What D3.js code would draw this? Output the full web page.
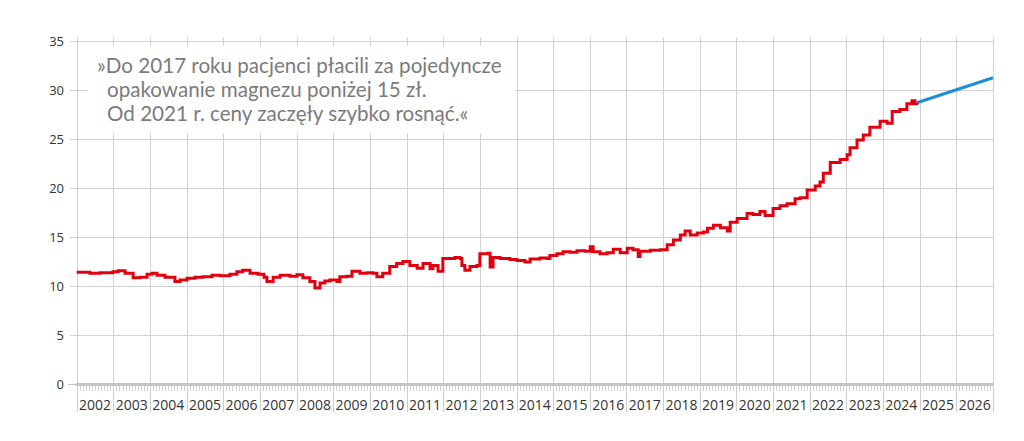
<!DOCTYPE html>
<html><head><meta charset="utf-8">
<script src="https://cdn.jsdelivr.net/npm/d3@7"></script>
<style>html,body{margin:0;padding:0;background:#fff;}svg{display:block;}</style>
</head><body>
<svg id="c" width="1024" height="441"></svg>
<script>
// ---- data ----
const years = d3.range(2002, 2027); // year labels 2002..2026
const yTicks = [0, 5, 10, 15, 20, 25, 30, 35];
const priceDates = [2002.0,2002.36,2002.64,2002.99,2003.13,2003.32,2003.54,2003.73,2003.92,2004.06,2004.19,2004.41,2004.68,2004.82,2005.01,2005.23,2005.45,2005.69,2005.91,2006.18,2006.37,2006.53,2006.73,2006.95,2007.11,2007.19,2007.36,2007.55,2007.82,2008.01,2008.17,2008.36,2008.50,2008.64,2008.77,2008.91,2009.10,2009.18,2009.37,2009.51,2009.73,2009.92,2010.08,2010.19,2010.35,2010.54,2010.73,2010.90,2011.09,2011.29,2011.45,2011.64,2011.72,2011.86,2011.99,2012.32,2012.46,2012.51,2012.59,2012.73,2012.92,2013.00,2013.22,2013.28,2013.36,2013.55,2013.82,2014.01,2014.23,2014.37,2014.64,2014.83,2014.91,2015.10,2015.27,2015.46,2015.65,2015.87,2016.01,2016.09,2016.28,2016.47,2016.64,2016.83,2017.02,2017.18,2017.29,2017.32,2017.37,2017.65,2017.92,2018.11,2018.28,2018.47,2018.60,2018.74,2018.93,2019.10,2019.21,2019.37,2019.56,2019.75,2019.83,2020.02,2020.29,2020.45,2020.64,2020.78,2021.00,2021.19,2021.38,2021.60,2021.74,2021.93,2022.15,2022.28,2022.37,2022.56,2022.83,2023.02,2023.10,2023.29,2023.46,2023.64,2023.92,2024.11,2024.25,2024.46,2024.65,2024.79,2024.87,2024.92];
const prices = [11.4,11.3,11.35,11.46,11.56,11.3,10.85,10.9,11.2,11.3,11.1,10.9,10.45,10.6,10.8,10.9,10.95,11.1,11.05,11.2,11.45,11.6,11.3,11.2,10.9,10.45,10.9,11.1,11.0,11.15,10.85,10.45,9.8,10.3,10.5,10.6,10.45,10.95,11.0,11.5,11.3,11.35,11.3,10.95,11.3,12.0,12.3,12.5,12.1,11.8,12.3,11.76,12.1,11.5,12.8,12.9,12.8,12.1,11.6,12.0,12.1,13.3,13.35,11.94,12.9,12.8,12.7,12.6,12.45,12.75,12.85,12.8,13.1,13.3,13.5,13.45,13.6,13.55,14.0,13.5,13.3,13.4,13.75,13.4,13.85,13.7,13.7,13.0,13.55,13.65,13.7,14.2,14.7,15.2,15.6,15.2,15.4,15.5,15.9,16.2,15.95,15.6,16.5,16.9,17.4,17.3,17.6,17.2,17.9,18.2,18.4,18.9,19.0,19.8,20.2,20.6,21.5,22.6,22.9,23.4,24.1,24.9,25.4,26.2,26.8,26.6,27.8,28.0,28.6,28.9,28.6,28.7];
const forecastDates = [2024.92, 2027.0];
const forecastPrices = [28.7, 31.25];
const noteLines = ["»Do 2017 roku pacjenci płacili za pojedyncze", "opakowanie magnezu poniżej 15 zł.", "Od 2021 r. ceny zaczęły szybko rosnąć.«"];

// ---- layout ----
const svg = d3.select("#c");
const x = d3.scaleLinear().domain([2002, 2027]).range([76.7, 993]);
const y = d3.scaleLinear().domain([0, 35]).range([384, 41]);
const gridCol = "#d2d2d2";

// horizontal grid
svg.append("g").selectAll("line").data(yTicks).join("line")
  .attr("x1", 70).attr("x2", 993)
  .attr("y1", d => Math.round(y(d)) + 0.5).attr("y2", d => Math.round(y(d)) + 0.5)
  .attr("stroke", gridCol).attr("stroke-width", 1);

// vertical grid (year boundaries)
const bounds = d3.range(2002, 2028);
svg.append("g").selectAll("line").data(bounds).join("line")
  .attr("x1", d => Math.round(x(d)) + 0.5).attr("x2", d => Math.round(x(d)) + 0.5)
  .attr("y1", 37).attr("y2", 384)
  .attr("stroke", gridCol).attr("stroke-width", 1);

// y labels
svg.append("g").selectAll("text").data(yTicks).join("text")
  .attr("x", 64).attr("y", d => y(d) + 4.5)
  .attr("text-anchor", "end")
  .attr("font-family", "Open Sans, sans-serif").attr("font-size", 13)
  .attr("fill", "#333").text(d => d);

// annotation box
svg.append("rect").attr("x", 88).attr("y", 46).attr("width", 427).attr("height", 87).attr("fill", "#fff");
const note = svg.append("text")
  .attr("font-family", "Lato, sans-serif").attr("font-size", 20.6)
  .attr("fill", "#7b7b7b");
noteLines.forEach((t, i) => {
  note.append("tspan").attr("x", i === 0 ? 97 : 107).attr("y", 73 + i * 24).text(t);
});

// bottom axis: minor monthly ticks
const months = d3.range(0, 25 * 12 + 1).map(i => 2002 + i / 12);
svg.append("g").selectAll("line").data(months).join("line")
  .attr("x1", d => Math.round(x(d)) + 0.5).attr("x2", d => Math.round(x(d)) + 0.5)
  .attr("y1", 384).attr("y2", 391)
  .attr("stroke", "#cfcfcf").attr("stroke-width", 1);
// year separators
svg.append("g").selectAll("line").data(bounds).join("line")
  .attr("x1", d => Math.round(x(d)) + 0.5).attr("x2", d => Math.round(x(d)) + 0.5)
  .attr("y1", 384).attr("y2", 412)
  .attr("stroke", "#cdcdcd").attr("stroke-width", 1);
// zero axis line
svg.append("line").attr("x1", 76).attr("x2", 993).attr("y1", 384.5).attr("y2", 384.5)
  .attr("stroke", "#c4c4c4").attr("stroke-width", 3);
svg.append("line").attr("x1", 68).attr("x2", 76).attr("y1", 384.5).attr("y2", 384.5)
  .attr("stroke", "#c4c4c4").attr("stroke-width", 1);
// year labels
svg.append("g").selectAll("text").data(years).join("text")
  .attr("x", d => x(d + 0.5)).attr("y", 410)
  .attr("text-anchor", "middle")
  .attr("font-family", "Open Sans, sans-serif").attr("font-size", 14)
  .attr("fill", "#333").text(d => d);

// lines
const histData = priceDates.map((d, i) => [d, prices[i]]);
const fcData = forecastDates.map((d, i) => [d, forecastPrices[i]]);
svg.append("path").datum(fcData)
  .attr("d", d3.line().x(d => x(d[0])).y(d => y(d[1])))
  .attr("fill", "none").attr("stroke", "#1e8fd5").attr("stroke-width", 3);
svg.append("path").datum(histData)
  .attr("d", d3.line().curve(d3.curveStepAfter).x(d => x(d[0])).y(d => y(d[1])))
  .attr("fill", "none").attr("stroke", "#e0000f").attr("stroke-width", 3)
  .attr("stroke-linejoin", "miter");
</script>
</body></html>
